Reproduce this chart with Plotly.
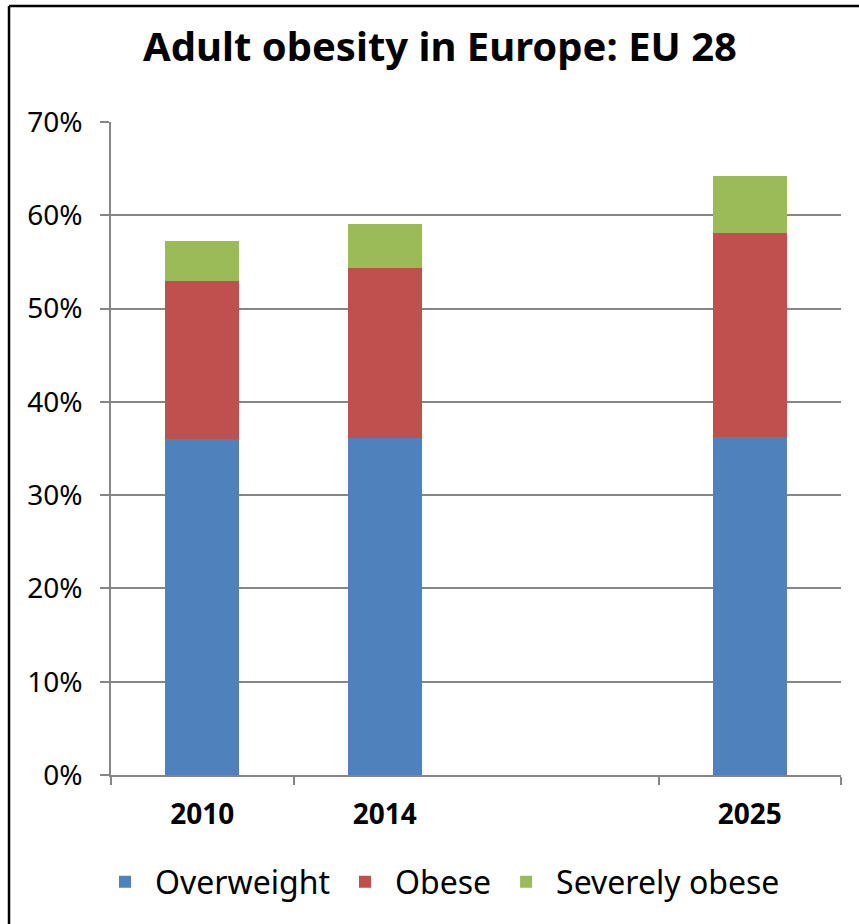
import plotly.graph_objects as go

categories = ["2010", "2014", " ", "2025"]
bar_years = ["2010", "2014", "2025"]
overweight = [36.0, 36.1, 36.2]
obese = [17.0, 18.3, 21.9]
severely_obese = [4.2, 4.7, 6.1]
y_ticks = [0, 10, 20, 30, 40, 50, 60, 70]
y_tick_labels = ["0%", "10%", "20%", "30%", "40%", "50%", "60%", "70%"]

FONT = "Noto Sans"
series = [
    ("Overweight", overweight, "#4F81BD"),
    ("Obese", obese, "#C0504D"),
    ("Severely obese", severely_obese, "#9BBB59"),
]

fig = go.Figure()
for name, vals, color in series:
    fig.add_trace(go.Bar(
        name=name, x=bar_years, y=vals, marker_color=color,
        marker_line_width=0, width=0.405,
    ))

fig.update_layout(
    barmode="stack",
    width=859, height=924,
    margin=dict(l=111, r=18, t=122, b=149),
    paper_bgcolor="white", plot_bgcolor="white",
    title=dict(text="<b>Adult obesity in Europe: EU 28</b>", x=440 / 859, xanchor="center",
               y=1 - 47 / 924, yanchor="middle",
               font=dict(family=FONT, size=40, color="black")),
    showlegend=True,
    legend=dict(orientation="h", x=(440 - 111) / 730, xanchor="center",
                y=(775 - 882) / 653, yanchor="middle",
                font=dict(family=FONT, size=32, color="black"),
                traceorder="normal", itemwidth=50, bgcolor="rgba(0,0,0,0)"),
    bargap=0,
)
fig.update_xaxes(
    type="category", categoryorder="array", categoryarray=categories,
    tickmode="array", tickvals=bar_years, ticktext=bar_years,
    tickson="boundaries", ticks="outside", ticklen=8, tickcolor="#868686", tickwidth=1.5,
    showline=True, linecolor="#868686", linewidth=1.5,
    range=[-0.5, 3.5],
    tickfont=dict(family=FONT, size=28, color="black", weight="bold"),
    ticklabelstandoff=14,
    showgrid=False,
)
fig.update_yaxes(
    range=[0, 70], tickvals=y_ticks, ticktext=y_tick_labels,
    ticks="outside", ticklen=9, tickcolor="#868686", tickwidth=1.5,
    showline=True, linecolor="#868686", linewidth=1.5,
    showgrid=True, gridcolor="#868686", gridwidth=1.5,
    tickfont=dict(family=FONT, size=28, color="black"),
    ticklabelstandoff=12,
    zeroline=False,
)
# outer frame (left and top edges visible)
fig.add_shape(type="line", xref="paper", yref="paper", x0=-0.1397, x1=-0.1397,
              y0=-0.25, y1=1.1776, line=dict(color="black", width=2.5))
fig.add_shape(type="line", xref="paper", yref="paper", x0=-0.1397, x1=1.05,
              y0=1.1776, y1=1.1776, line=dict(color="black", width=2.5))

fig.write_html("out.html", config={"displayModeBar": False},
               post_script="document.body.style.margin='0';")
